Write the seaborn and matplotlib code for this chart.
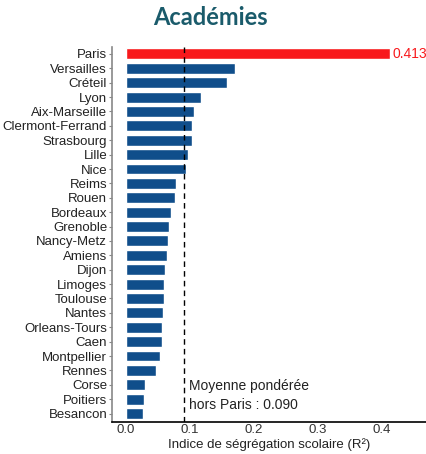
import numpy as np
import pandas as pd
import seaborn as sns
import matplotlib.pyplot as plt

academies = ["Paris", "Versailles", "Créteil", "Lyon", "Aix-Marseille",
             "Clermont-Ferrand", "Strasbourg", "Lille", "Nice", "Reims",
             "Rouen", "Bordeaux", "Grenoble", "Nancy-Metz", "Amiens", "Dijon",
             "Limoges", "Toulouse", "Nantes", "Orleans-Tours", "Caen",
             "Montpellier", "Rennes", "Corse", "Poitiers", "Besancon"]
segregation = [0.413, 0.171, 0.158, 0.117, 0.106,
               0.103, 0.103, 0.097, 0.094, 0.078,
               0.077, 0.070, 0.067, 0.066, 0.064, 0.061,
               0.059, 0.059, 0.058, 0.056, 0.056,
               0.053, 0.047, 0.030, 0.028, 0.027]
moyenne_hors_paris = 0.090

df = pd.DataFrame({"academie": academies, "r2": segregation})
colors = ["#f8191c" if a == "Paris" else "#104e8b" for a in academies]

sns.set_style("white")
plt.rcParams['font.family'] = ['Liberation Sans', 'DejaVu Sans']

fig = plt.figure(figsize=(4.26, 4.54), dpi=100)
ax = fig.add_axes([0.263, 0.071, 0.737, 0.826])

sns.barplot(data=df, x="r2", y="academie", hue="academie", palette=colors,
            legend=False, width=0.76, saturation=1, ax=ax)

ax.axvline(moyenne_hors_paris, color="black", linestyle=(0, (4, 3)), linewidth=1)
ax.text(0.0985, 22.6, "Moyenne pondérée\nhors Paris : 0.090", fontsize=10,
        color="#222222", va="top", ha="left", linespacing=1.45)
ax.text(0.418, 0, "0.413", color="#f8191c", fontsize=10, va="center", ha="left",
        clip_on=False)

ax.set_xlim(-0.022, 0.47)
ax.set_ylim(len(academies) - 0.43, -0.5)
ax.set_xticks([0.0, 0.1, 0.2, 0.3, 0.4])
ax.set_xticklabels(["0.0", "0.1", "0.2", "0.3", "0.4"], fontsize=9.5, color="#333333")
ax.tick_params(axis="y", labelsize=9.5, labelcolor="#222222", length=2.5,
               color="#888888", pad=1, left=True)
ax.tick_params(axis="x", length=0, pad=1.5)
ax.set_ylabel("")
ax.set_xlabel("Indice de ségrégation scolaire (R²)", fontsize=9.5,
              color="#222222", labelpad=1.5)

sns.despine(ax=ax, top=True, right=True)
ax.spines["left"].set_color("#888888")
ax.spines["left"].set_linewidth(1.2)
ax.spines["bottom"].set_color("black")
ax.spines["bottom"].set_linewidth(1.2)

fig.text(0.495, 0.962, "Académies", fontsize=17, fontweight="bold",
         color="#1a5b6b", ha="center", va="center", family=["Lato", "DejaVu Sans"])

fig.savefig("out.png", dpi=100)
